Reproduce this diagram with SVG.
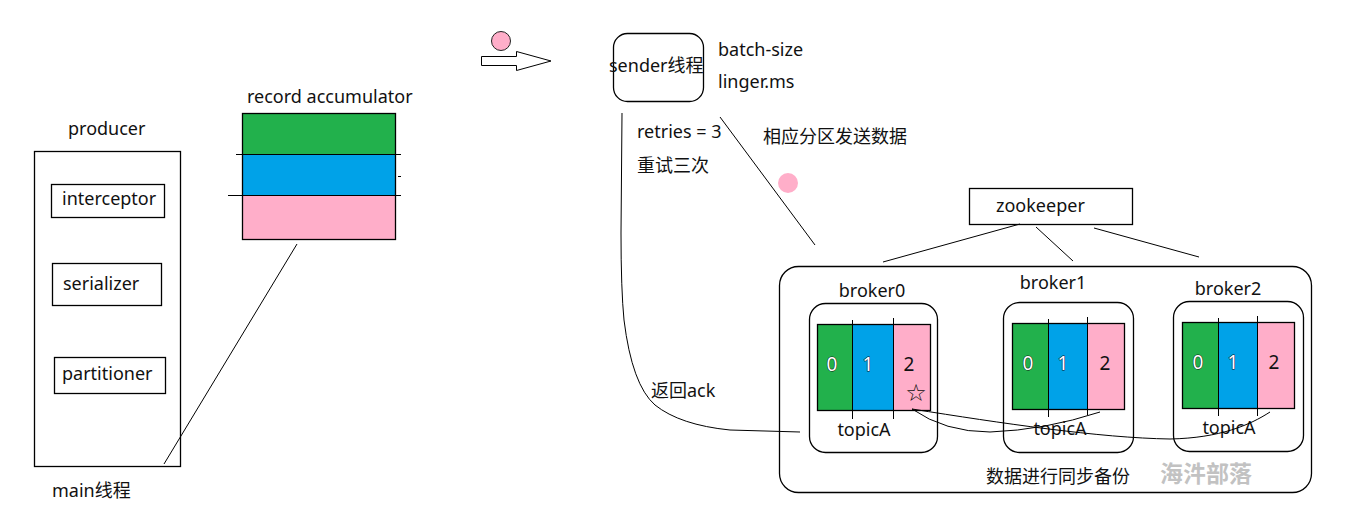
<svg xmlns="http://www.w3.org/2000/svg" width="1354" height="520" viewBox="0 0 1354 520">
<style>
text{font-family:"Noto Sans","Noto Sans CJK SC",sans-serif;font-size:18px;fill:#111}
.box{fill:none;stroke:#000;stroke-width:1.3}
.ln{fill:none;stroke:#000;stroke-width:1}
.g{fill:#22b14c}.b{fill:#00a2e8}.p{fill:#ffaec9}
.dg{font-size:19px;text-anchor:middle}
.w{fill:#fff;stroke:#111;stroke-width:0.9;paint-order:stroke}
.mid{text-anchor:middle}
.star{font-family:"DejaVu Sans",sans-serif;font-size:24px;text-anchor:middle}
</style>
<rect width="1354" height="520" fill="#fff"/>

<g id="producer">
<text x="68" y="135">producer</text>
<rect class="box" x="34.5" y="151.5" width="146" height="315"/>
<text x="52" y="497">main线程</text>
</g>
<g id="interceptor">
<rect class="box" x="51.5" y="184.5" width="113" height="33"/>
<text x="62" y="205">interceptor</text>
</g>
<g id="serializer">
<rect class="box" x="52.5" y="263.5" width="109" height="42"/>
<text x="63" y="290">serializer</text>
</g>
<g id="partitioner">
<rect class="box" x="54.5" y="357.5" width="111" height="36"/>
<text x="62" y="380">partitioner</text>
</g>

<g id="accumulator">
<text x="247" y="103">record accumulator</text>
<rect class="g" x="242" y="113" width="153" height="41"/>
<rect class="b" x="242" y="154" width="153" height="41"/>
<rect class="p" x="242" y="195" width="153" height="44"/>
<rect class="box" x="242.5" y="113.5" width="153" height="126"/>
<line class="ln" x1="236" y1="154.5" x2="401" y2="154.5"/>
<line class="ln" x1="228" y1="195.5" x2="401" y2="195.5"/>
<line class="ln" x1="398" y1="176.5" x2="401" y2="176.5"/>
</g>

<g id="arrow">
<circle cx="501" cy="41" r="9.5" fill="#ffaec9" stroke="#222" stroke-width="1"/>
<polygon points="481.5,56.5 516.5,56.5 516.5,51.5 551,61 516.5,70.5 516.5,65.5 481.5,65.5" fill="#fff" stroke="#000" stroke-width="1"/>
</g>

<g id="sender">
<rect class="box" x="613.5" y="33.5" width="90" height="68" rx="14"/>
<text x="609" y="72">sender线程</text>
<text x="718" y="56">batch-size</text>
<text x="718" y="88">linger.ms</text>
</g>

<g id="labels">
<text x="637" y="138">retries = 3</text>
<text x="637" y="172">重试三次</text>
<text x="763" y="143">相应分区发送数据</text>
<text x="651" y="397">返回ack</text>
<circle cx="788" cy="183" r="10" fill="#ffaec9"/>
</g>

<g id="zookeeper">
<rect class="box" x="969.5" y="188.5" width="163" height="36"/>
<text x="996" y="212">zookeeper</text>
</g>

<g id="cluster">
<rect class="box" x="779.5" y="266.5" width="532" height="226" rx="19"/>
<text x="986" y="483">数据进行同步备份</text>
<text x="1160" y="482" style="font-size:23px;fill:#c2c2c2;font-weight:bold">海汼部落</text>
</g>

<g id="broker0">
<text x="872" y="297" class="mid">broker0</text>
<rect class="box" x="809.5" y="303.5" width="128" height="149" rx="16"/>
<rect class="g" x="817" y="324" width="35" height="86"/>
<rect class="b" x="852" y="324" width="41" height="86"/>
<rect class="p" x="893" y="324" width="37" height="86"/>
<rect class="box" x="817.5" y="324.5" width="113" height="86"/>
<line class="ln" x1="852.5" y1="320" x2="852.5" y2="419"/>
<line class="ln" x1="893.5" y1="318" x2="893.5" y2="419"/>
<text x="832" y="371" class="dg w">0</text>
<text x="868" y="371" class="dg w">1</text>
<text x="909" y="371" class="dg">2</text>
<text x="916" y="401" class="star">☆</text>
<text x="864" y="436" class="mid">topicA</text>
</g>

<g id="broker1">
<text x="1053" y="289" class="mid">broker1</text>
<rect class="box" x="1003.5" y="302.5" width="130" height="150" rx="16"/>
<rect class="g" x="1012" y="323" width="36" height="86"/>
<rect class="b" x="1048" y="323" width="39" height="86"/>
<rect class="p" x="1087" y="323" width="37" height="86"/>
<rect class="box" x="1012.5" y="323.5" width="112" height="86"/>
<line class="ln" x1="1048.5" y1="319" x2="1048.5" y2="417"/>
<line class="ln" x1="1087.5" y1="317" x2="1087.5" y2="415"/>
<text x="1028" y="370" class="dg w">0</text>
<text x="1063" y="370" class="dg w">1</text>
<text x="1105" y="370" class="dg">2</text>
<text x="1060" y="435" class="mid">topicA</text>
</g>

<g id="broker2">
<text x="1228" y="295" class="mid">broker2</text>
<rect class="box" x="1173.5" y="301.5" width="130" height="150" rx="16"/>
<rect class="g" x="1182" y="322" width="36" height="86"/>
<rect class="b" x="1218" y="322" width="39" height="86"/>
<rect class="p" x="1257" y="322" width="37" height="86"/>
<rect class="box" x="1182.5" y="322.5" width="112" height="86"/>
<line class="ln" x1="1218.5" y1="318" x2="1218.5" y2="416"/>
<line class="ln" x1="1257.5" y1="316" x2="1257.5" y2="416"/>
<text x="1198" y="369" class="dg w">0</text>
<text x="1233" y="369" class="dg w">1</text>
<text x="1274" y="369" class="dg">2</text>
<text x="1229" y="434" class="mid">topicA</text>
</g>

<g id="connectors">
<line class="ln" x1="297" y1="244" x2="164" y2="464"/>
<line class="ln" x1="720" y1="117" x2="815" y2="245"/>
<path class="ln" d="M622,113 L621,233 Q621,290 624,320 Q632,385 655,405 Q680,425 730,430 L800,432"/>
<line class="ln" x1="1020" y1="224" x2="883" y2="262"/>
<line class="ln" x1="1036" y1="227" x2="1073" y2="261"/>
<line class="ln" x1="1094" y1="228" x2="1199" y2="257"/>
<path class="ln" d="M912,409 Q945,432 990,432 Q1045,430 1100,412"/>
<path class="ln" d="M912,409 C1000,423 1100,438 1170,439 C1220,438 1250,425 1270,412"/>
</g>
</svg>
